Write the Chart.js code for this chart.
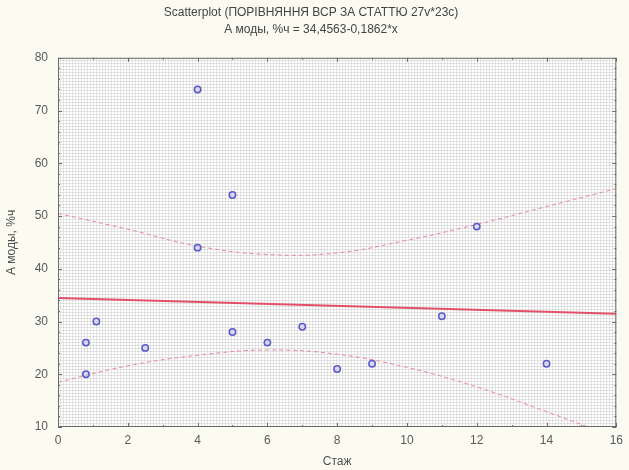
<!DOCTYPE html>
<html>
<head>
<meta charset="utf-8">
<script src="https://cdn.jsdelivr.net/npm/chart.js@4"></script>
<style>
  body { margin: 0; background: #fbfbf1; }
  canvas { display: block; }
</style>
</head>
<body>
<canvas id="chart" width="629" height="470"></canvas>
<script>
// observed points (Стаж vs А моды, %ч)
const stazh = [0.8, 0.8, 1.1, 2.5, 4, 4, 5, 5, 6, 7, 8, 9, 11, 12, 14];
const amody = [26, 20, 30, 25, 74, 44, 54, 28, 26, 29, 21, 22, 31, 48, 22];

// fitted line read from the subtitle: 34,4563-0,1862*x
const fitX = [0, 16];
const fitY = [34.456, 31.477];

// confidence band
const bandX = [0, 2, 4, 6, 8, 10, 12, 14, 16];
const bandUpper = [50.5, 47.5, 44.3, 42.7, 43.0, 45.4, 48.4, 51.8, 55.2];
const bandLower = [18.5, 21.6, 23.6, 24.6, 23.8, 21.3, 17.6, 12.9, 8.0];

const xTicks = [0, 2, 4, 6, 8, 10, 12, 14, 16];
const yTicks = [10, 20, 30, 40, 50, 60, 70, 80];

const FONT = "'Liberation Sans', Arial, sans-serif";
const toXY = (xs, ys) => xs.map((x, i) => ({ x: x, y: ys[i] }));

// dotted statistica-like plot background
function makePattern(ctx) {
    const c = document.createElement('canvas');
    c.width = 3; c.height = 3;
    const p = c.getContext('2d');
    p.fillStyle = '#ffffff';
    p.fillRect(0, 0, 3, 3);
    p.fillStyle = '#e6e6e6';
    p.fillRect(0, 0, 3, 1);
    p.fillRect(0, 0, 1, 3);
    p.fillStyle = '#d4d4d4';
    p.fillRect(0, 0, 1, 1);
    return ctx.createPattern(c, 'repeat');
}

const frame = {
    id: 'frame',
    beforeDatasetsDraw(chart) {
        const { ctx, chartArea: a } = chart;
        ctx.save();
        ctx.fillStyle = makePattern(ctx);
        ctx.fillRect(a.left, a.top, a.right - a.left, a.bottom - a.top);
        ctx.restore();
    },
    afterDatasetsDraw(chart) {
        const { ctx, chartArea: a, scales } = chart;
        ctx.save();
        ctx.strokeStyle = '#6a6a6a';
        ctx.lineWidth = 1;
        ctx.strokeRect(a.left + 0.5, a.top + 0.5, a.right - a.left - 1, a.bottom - a.top - 1);
        // inward ticks, major + minor
        ctx.beginPath();
        for (let v = 0; v <= 16; v += 1) {
            const px = Math.round(scales.x.getPixelForValue(v)) + 0.5;
            const len = v % 2 === 0 ? 4 : 2;
            ctx.moveTo(px, a.bottom); ctx.lineTo(px, a.bottom - len);
            ctx.moveTo(px, a.top); ctx.lineTo(px, a.top + len);
        }
        for (let v = 10; v <= 80; v += 2) {
            const py = Math.round(scales.y.getPixelForValue(v)) + 0.5;
            const len = v % 10 === 0 ? 4 : 2;
            ctx.moveTo(a.left, py); ctx.lineTo(a.left + len, py);
            ctx.moveTo(a.right, py); ctx.lineTo(a.right - len, py);
        }
        ctx.stroke();
        ctx.restore();
    }
};

new Chart(document.getElementById('chart'), {
    type: 'scatter',
    data: {
        datasets: [
            {
                label: 'points',
                data: toXY(stazh, amody),
                pointRadius: 3.2,
                pointBorderWidth: 1.5,
                borderColor: '#5a5ac6',
                backgroundColor: 'rgba(200,200,242,0.6)',
                order: 0
            },
            {
                label: 'fit',
                type: 'line',
                data: toXY(fitX, fitY),
                borderColor: '#e2506a',
                borderWidth: 2,
                pointRadius: 0,
                order: 1
            },
            {
                label: 'upper',
                type: 'line',
                data: toXY(bandX, bandUpper),
                borderColor: '#e58a98',
                borderWidth: 1,
                borderDash: [4, 3],
                tension: 0.4,
                pointRadius: 0,
                order: 2
            },
            {
                label: 'lower',
                type: 'line',
                data: toXY(bandX, bandLower),
                borderColor: '#e58a98',
                borderWidth: 1,
                borderDash: [4, 3],
                tension: 0.4,
                pointRadius: 0,
                order: 2
            }
        ]
    },
    options: {
        responsive: false,
        animation: false,
        layout: { padding: { left: 0, right: 7, top: 0, bottom: 0 } },
        plugins: {
            legend: { display: false },
            tooltip: { enabled: false },
            title: {
                display: true,
                text: 'Scatterplot (ПОРІВНЯННЯ ВСР ЗА СТАТТЮ 27v*23c)',
                color: '#444',
                font: { family: FONT, size: 12, weight: 'normal' },
                padding: { top: 5, bottom: 3 }
            },
            subtitle: {
                display: true,
                text: 'А моды, %ч = 34,4563-0,1862*x',
                color: '#444',
                font: { family: FONT, size: 12 },
                padding: { top: 0, bottom: 21 }
            }
        },
        scales: {
            x: {
                type: 'linear',
                min: 0,
                max: 16,
                afterBuildTicks: s => { s.ticks = xTicks.map(v => ({ value: v })); },
                afterFit: s => { s.height = 43; },
                grid: { display: false, drawTicks: false },
                border: { display: false },
                ticks: { color: '#5a5a5a', padding: 6, font: { family: FONT, size: 12 } },
                title: {
                    display: true,
                    text: 'Стаж',
                    color: '#505050',
                    font: { family: FONT, size: 12 },
                    padding: { top: 0, bottom: 1 }
                }
            },
            y: {
                type: 'linear',
                min: 10,
                max: 80,
                afterBuildTicks: s => { s.ticks = yTicks.map(v => ({ value: v })); },
                afterFit: s => { s.width = 58; },
                grid: { display: false, drawTicks: false },
                border: { display: false },
                ticks: { color: '#5a5a5a', padding: 10, font: { family: FONT, size: 12 } },
                title: {
                    display: true,
                    text: 'А моды, %ч',
                    color: '#505050',
                    font: { family: FONT, size: 12 },
                    padding: { top: 4, bottom: 0 }
                }
            }
        }
    },
    plugins: [frame]
});
</script>
</body>
</html>
